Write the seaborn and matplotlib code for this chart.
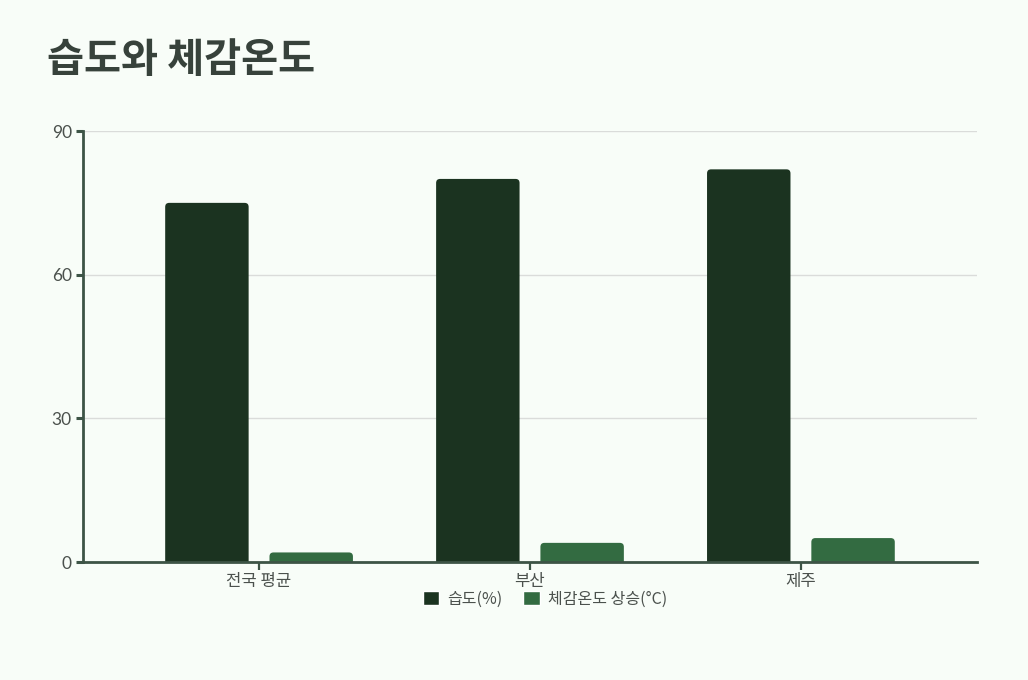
"""
습도와 체감온도 막대그래프 재현
실행:  python3 plot.py  -> out.png
"""

import matplotlib
matplotlib.use("Agg")
import matplotlib.pyplot as plt
import pandas as pd
import seaborn as sns
from matplotlib.patches import FancyBboxPatch, Patch

# ---- 데이터 ----
regions = ["전국 평균", "부산", "제주"]
humidity = [75, 80, 82]          # 습도(%)
feel_rise = [2, 4, 5]            # 체감온도 상승(°C)
series_names = ["습도(%)", "체감온도 상승(°C)"]
y_ticks = [0, 30, 60, 90]

DARK = "#1b3320"
MID = "#336b41"
BG = "#f8fdf8"
AXIS = "#3d5446"
TEXT = "#4b514d"

sns.set_theme(style="white")
plt.rcParams["font.family"] = ["Noto Sans CJK KR", "DejaVu Sans"]


def main():
    df = pd.DataFrame({
        "region": regions * 2,
        "value": humidity + feel_rise,
        "series": [series_names[0]] * 3 + [series_names[1]] * 3,
    })

    fig = plt.figure(figsize=(10.28, 6.8), dpi=100, facecolor=BG)
    ax = fig.add_axes([0.0807, 0.1735, 0.8697, 0.6338])
    ax.set_facecolor(BG)

    sns.barplot(data=df, x="region", y="value", hue="series",
                palette=[DARK, MID], width=0.77, gap=0.2,
                saturation=1, legend=False, ax=ax)

    ax.set_xlim(-0.65, 2.65)
    ax.set_ylim(0, 90)

    # 막대 윗부분만 둥글게 (아래쪽은 축 아래로 밀어서 잘라냄)
    px_x = 1 / 271.0
    px_y = 90 / 431.0
    r = 4 * px_x
    aspect = (4 * px_y) / r
    for bar in list(ax.patches):
        x, w, h = bar.get_x(), bar.get_width(), bar.get_height()
        off = 6 * px_y
        fb = FancyBboxPatch((x, -off), w, h + off,
                            boxstyle=f"round,pad=0,rounding_size={r}",
                            mutation_aspect=aspect,
                            facecolor=bar.get_facecolor(), edgecolor="none",
                            zorder=2)
        ax.add_patch(fb)
        bar.remove()

    ax.set_yticks(y_ticks)
    ax.set_yticklabels([str(v) for v in y_ticks], family=["Lato", "DejaVu Sans"])
    ax.yaxis.grid(True, color="#dadcda", linewidth=1)
    ax.set_axisbelow(True)
    ax.set_xlabel("")
    ax.set_ylabel("")

    for side in ["top", "right"]:
        ax.spines[side].set_visible(False)
    for side in ["left", "bottom"]:
        ax.spines[side].set_color(AXIS)
        ax.spines[side].set_linewidth(2)
        ax.spines[side].set_zorder(3)

    ax.tick_params(axis="y", left=True, length=5, width=2.2, color=AXIS,
                   labelsize=12.5, labelcolor=TEXT, pad=3)
    ax.tick_params(axis="x", bottom=True, length=6, width=1.6, color=AXIS,
                   labelsize=12, labelcolor=TEXT, pad=2)

    fig.text(47 / 1028, 1 - 60 / 680, "습도와 체감온도", fontsize=29,
             fontweight="bold", color="#37423b", va="center", ha="left")

    handles = [Patch(facecolor=DARK, label=series_names[0]),
               Patch(facecolor=MID, label=series_names[1])]
    fig.legend(handles=handles, loc="center", ncol=2,
               bbox_to_anchor=(545 / 1028, 1 - 599 / 680), frameon=False,
               fontsize=11.5, labelcolor=TEXT, handlelength=1.05,
               handleheight=1.05, handletextpad=0.5, columnspacing=1.3)

    fig.savefig("out.png", dpi=100, facecolor=BG)
    plt.close(fig)


if __name__ == "__main__":
    main()
